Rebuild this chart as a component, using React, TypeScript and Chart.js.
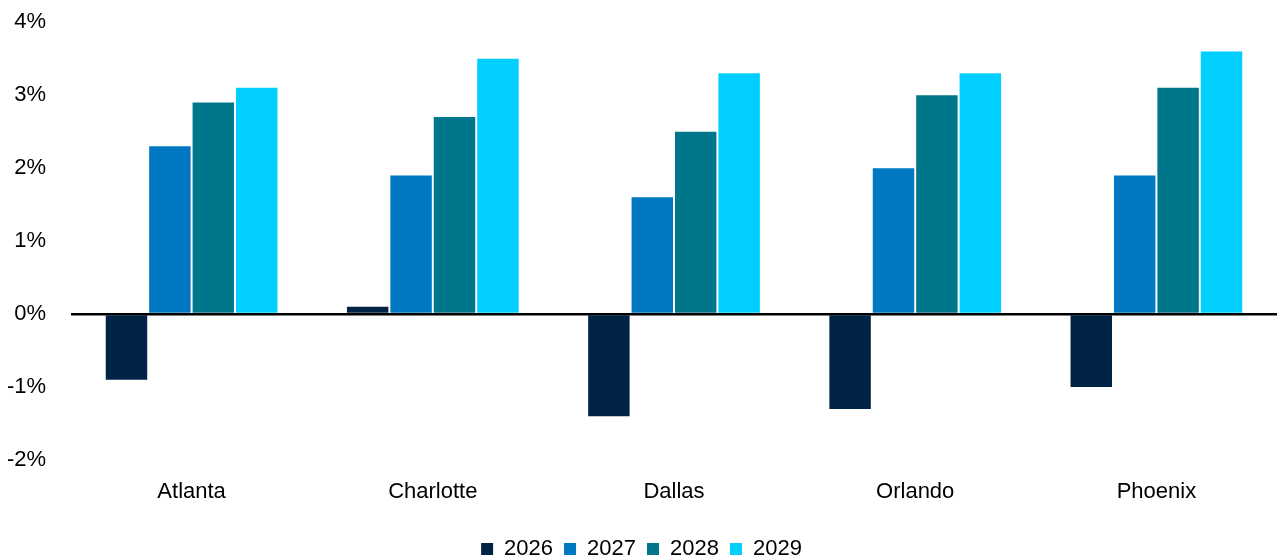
import React, { useEffect, useRef } from "react";
import { Chart, registerables } from "chart.js";

Chart.register(...registerables);

const cities = ["Atlanta", "Charlotte", "Dallas", "Orlando", "Phoenix"];
const years = ["2026", "2027", "2028", "2029"];
const growth2026 = [-0.9, 0.1, -1.4, -1.3, -1.0];
const growth2027 = [2.3, 1.9, 1.6, 2.0, 1.9];
const growth2028 = [2.9, 2.7, 2.5, 3.0, 3.1];
const growth2029 = [3.1, 3.5, 3.3, 3.3, 3.6];
const colors = ["#002346", "#0078C1", "#00768A", "#00CFFF"];

const FONT = "'Liberation Sans', Arial, sans-serif";
const FONT_SIZE = 22;
const LIFT = 16;

export default function App() {
  const ref = useRef<HTMLCanvasElement | null>(null);

  useEffect(() => {
    if (!ref.current) return;
    const series = [growth2026, growth2027, growth2028, growth2029];
    const chart = new Chart(ref.current, {
      type: "bar",
      data: {
        labels: cities,
        datasets: years.map((y, i) => ({
          label: y,
          data: series[i],
          backgroundColor: colors[i],
          borderWidth: 0,
          categoryPercentage: 0.72,
          barPercentage: 0.955,
        })),
      },
      options: {
        responsive: false,
        animation: false,
        maintainAspectRatio: false,
        layout: { padding: { top: -6, right: 7, left: 6, bottom: -12 } },
        plugins: {
          tooltip: { enabled: false },
          legend: {
            position: "bottom",
            labels: {
              color: "#000",
              font: { family: FONT, size: FONT_SIZE },
              boxWidth: 12,
              boxHeight: 12,
              padding: 11,
            },
          },
        },
        scales: {
          x: {
            grid: { display: false },
            border: { display: false },
            ticks: {
              color: "#000",
              font: { family: FONT, size: FONT_SIZE },
              padding: 11,
            },
            afterFit: (scale: any) => {
              scale.height = 67;
            },
          },
          y: {
            min: -2,
            max: 4,
            border: { display: false },
            grid: {
              drawTicks: false,
              color: (ctx: any) => (ctx.tick && ctx.tick.value === 0 ? "#000" : "rgba(0,0,0,0)"),
              lineWidth: (ctx: any) => (ctx.tick && ctx.tick.value === 0 ? 2.5 : 0),
            },
            ticks: {
              stepSize: 1,
              color: "#000",
              font: { family: FONT, size: FONT_SIZE },
              padding: 25,
              callback: (v: any) => `${v}%`,
            },
            afterFit: (scale: any) => {
              scale.width = 65;
            },
          },
        },
      },
    });
    return () => chart.destroy();
  }, []);

  return (
    <div style={{ position: "fixed", left: 0, top: 0, width: 1284, height: 558, background: "#fff", overflow: "hidden" }}>
      <canvas
        ref={ref}
        width={1284}
        height={558 + LIFT}
        style={{ position: "absolute", left: 0, top: -LIFT }}
      />
    </div>
  );
}
